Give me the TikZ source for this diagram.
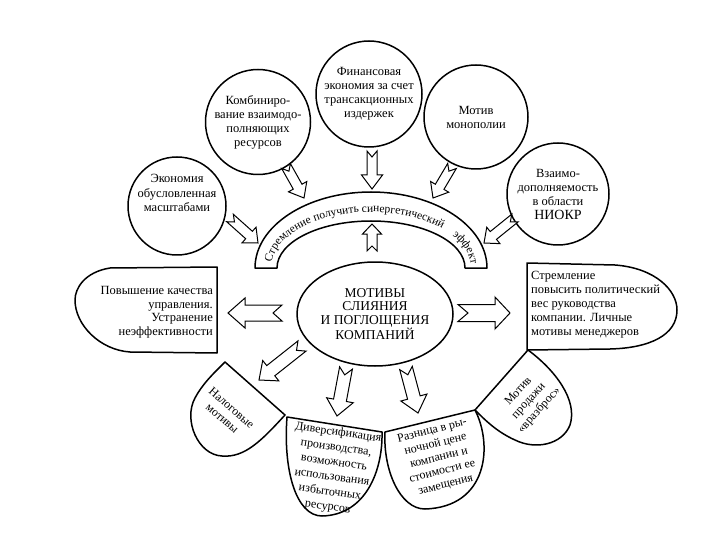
\documentclass[tikz,border=0pt]{standalone}
\usepackage{fontspec}
\setmainfont{Liberation Serif}
\usetikzlibrary{calc,shapes.geometric,decorations.text}
\tikzset{
  ln/.style={line width=1.5pt, line join=round},
  circ/.style={ln, draw, circle, inner sep=0pt, align=center, font=\fontsize{12.5}{14}\selectfont},
  blk/.style={ln, draw, fill=white},
  arr/.style={line width=1pt, draw, fill=white, line join=miter},
  ptxt/.style={align=center, inner sep=0pt, font=\fontsize{12}{14}\selectfont},
}
\newcommand{\barrow}[6]{%
  \coordinate (ba-h) at ($(#2)!#5!(#1)$);
  \coordinate (ba-n) at ($(#1)!#6!(#2)$);
  \draw[arr] ($(#1)!#3!90:(#2)$) -- ($(ba-h)!#3!90:(#2)$) -- ($(ba-h)!#4!90:(#2)$) -- (#2)
    -- ($(ba-h)!#4!-90:(#2)$) -- ($(ba-h)!#3!-90:(#2)$) -- ($(#1)!#3!-90:(#2)$) -- (ba-n) -- cycle;
}
\begin{document}
\begin{tikzpicture}[x=1pt,y=1pt]
\useasboundingbox (0,0) rectangle (720,-540);

% top circles
\node[circ, minimum size=105pt] (comb) at (258,-122) {Комбиниро-\\вание взаимодо-\\полняющих\\ресурсов};
\node[circ, minimum size=106pt] (fin) at (369,-94) {Финансовая\\экономия за счет\\трансакционных\\издержек};
\node[circ, minimum size=104pt] (mon) at (476,-117) {Мотив\\монополии};
\node[circ, minimum size=98pt] (econ) at (177,-206) {};
\node[align=center, inner sep=0pt, font=\fontsize{12.5}{14.5}\selectfont] (econ-t) at ($(econ)+(0,13)$) {Экономия\\обусловленная\\масштабами};
\node[circ, minimum size=102pt] (rnd) at (558,-194) {Взаимо-\\дополняемость\\в области\\{\fontsize{14}{14}\selectfont НИОКР}};

% synergy arc band
\draw[blk] (255,-268) arc[start angle=180, end angle=0, x radius=116, y radius=76]
  -- (465,-268) arc[start angle=0, end angle=180, x radius=94, y radius=47] -- cycle;
\path[decorate, decoration={text along path, text align=center,
  text={|\fontsize{11.5}{12}\selectfont|Стремление получить синергетический}}]
  ([shift={(371,-268)}]178:100 and 56) arc[start angle=178, end angle=42, x radius=100, y radius=56];
\path[decorate, decoration={text along path, text align=center,
  text={|\fontsize{11.5}{12}\selectfont|эффект}}]
  ([shift={(371,-268)}]38:100 and 56) arc[start angle=38, end angle=0, x radius=100, y radius=56];

% centre
\node[ln, draw, ellipse, inner sep=0pt, minimum width=156pt, minimum height=104pt, align=center,
  font=\fontsize{13.5}{13.5}\selectfont] (core) at (375,-314) {МОТИВЫ\\СЛИЯНИЯ\\И ПОГЛОЩЕНИЯ\\КОМПАНИЙ};

% left box
\draw[blk] (217,-267) -- (110,-268) .. controls (85,-272) and (75,-288) .. (75,-300)
  .. controls (75,-325) and (100,-350) .. (130,-352) -- (217,-353) -- cycle;
\node[anchor=east, align=right, inner sep=0pt, font=\fontsize{12.5}{13.5}\selectfont] (mgmt) at (213,-312)
  {Повышение качества\\управления.\\Устранение\\неэффективности};

% right box
\draw[blk] (527,-263) -- (615,-265) .. controls (655,-268) and (677,-290) .. (677,-310)
  .. controls (677,-335) and (650,-348) .. (610,-349) -- (527,-350) -- cycle;
\node[anchor=west, align=left, inner sep=0pt, font=\fontsize{12.5}{14}\selectfont] (pers) at (531,-305)
  {Стремление\\повысить политический\\вес руководства\\компании. Личные\\мотивы менеджеров};

% bottom petals
\draw[blk] (225,-362) -- (285,-415) .. controls (262,-440) and (245,-458) .. (222,-456)
  .. controls (198,-455) and (183,-420) .. (195,-398) .. controls (203,-383) and (215,-372) .. (225,-362) -- cycle;
\node[ptxt, rotate=-41] (tax) at (227,-413) {Налоговые\\мотивы};

\draw[blk] (287,-417) -- (382,-432) .. controls (383,-470) and (366,-515) .. (322,-516)
  .. controls (296,-516) and (283,-470) .. (287,-417) -- cycle;
\node[ptxt, rotate=-8, font=\fontsize{12}{15}\selectfont] (div) at (333,-470)
  {Диверсификация\\производства,\\возможность\\использования\\избыточных\\ресурсов};

\draw[blk] (385,-432) -- (475,-410) .. controls (493,-445) and (488,-507) .. (425,-509)
  .. controls (400,-509) and (383,-470) .. (385,-432) -- cycle;
\node[ptxt, rotate=14] (gap) at (439,-458) {Разница в ры-\\ночной цене\\компании и\\стоимости ее\\замещения};

\draw[blk] (475,-410) -- (528,-350) .. controls (555,-370) and (578,-400) .. (570,-425)
  .. controls (562,-445) and (535,-450) .. (515,-440) .. controls (497,-432) and (485,-420) .. (475,-410) -- cycle;
\node[ptxt, rotate=48] (sale) at (529,-401) {Мотив\\продажи\\«вразброс»};

% arrow end points
\coordinate (a1s) at (230,-218); \coordinate (a1e) at (258,-243);
\coordinate (a2s) at (286,-166); \coordinate (a2e) at (304,-198);
\coordinate (a3s) at (372,-151); \coordinate (a3e) at (372,-189);
\coordinate (a4s) at (452,-166); \coordinate (a4e) at (433,-198);
\coordinate (a5s) at (515,-218); \coordinate (a5e) at (484,-243);
\coordinate (a6s) at (372,-251); \coordinate (a6e) at (372,-224);
\coordinate (a7s) at (282,-313); \coordinate (a7e) at (228,-313);
\coordinate (a8s) at (458,-313); \coordinate (a8e) at (510,-313);
\coordinate (a9s) at (302,-346); \coordinate (a9e) at (259,-380);
\coordinate (a10s) at (346,-368); \coordinate (a10e) at (337,-416);
\coordinate (a11s) at (406,-368); \coordinate (a11e) at (418,-413);

\barrow{a1s}{a1e}{5pt}{10.5pt}{12pt}{6pt}
\barrow{a2s}{a2e}{5pt}{10.5pt}{13pt}{6pt}
\barrow{a3s}{a3e}{5pt}{10.5pt}{14pt}{6pt}
\barrow{a4s}{a4e}{5pt}{10.5pt}{13pt}{6pt}
\barrow{a5s}{a5e}{5pt}{10.5pt}{12pt}{6pt}
\barrow{a6s}{a6e}{5pt}{9.5pt}{10pt}{5pt}
\barrow{a7s}{a7e}{8pt}{15pt}{17pt}{9pt}
\barrow{a8s}{a8e}{8.5pt}{16pt}{15pt}{10pt}
\barrow{a9s}{a9e}{6.5pt}{13pt}{15pt}{7pt}
\barrow{a10s}{a10e}{6.5pt}{13.5pt}{16pt}{7pt}
\barrow{a11s}{a11e}{6.5pt}{13.5pt}{16pt}{7pt}
\end{tikzpicture}
\end{document}
